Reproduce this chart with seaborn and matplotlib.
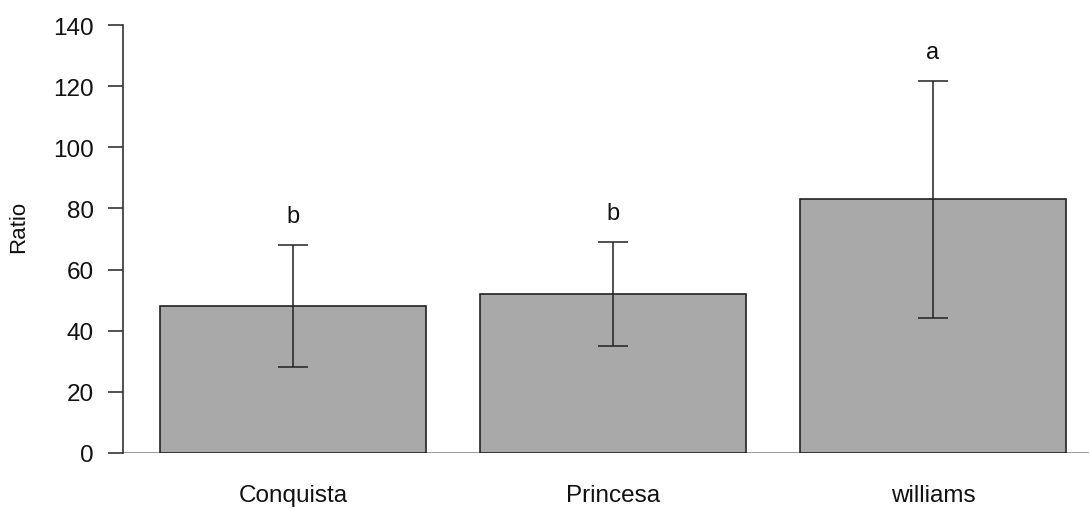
import numpy as np
import pandas as pd
import matplotlib
matplotlib.use("Agg")
import matplotlib.pyplot as plt
import seaborn as sns

# === Data ===
varieties = ["Conquista", "Princesa", "williams"]
ratio_mean = [48.0, 52.0, 83.0]
ratio_sd = [20.0, 17.0, 38.7]
letters = ["b", "b", "a"]

df = pd.DataFrame({"Variety": varieties, "Ratio": ratio_mean})

sns.set_style("white")
plt.rcParams["font.family"] = ["Liberation Sans", "DejaVu Sans"]
plt.rcParams.update({
    "text.color": "#111111",
    "axes.labelcolor": "#111111",
    "xtick.color": "#111111",
    "ytick.color": "#111111",
})

fig = plt.figure(figsize=(10.89, 5.10), dpi=100)
ax = fig.add_axes([123 / 1089, 56 / 510, 1 - 123 / 1089, 428 / 510])

sns.barplot(data=df, x="Variety", y="Ratio", order=varieties,
            color="#A9A9A9", edgecolor="#222222", linewidth=1.2,
            width=0.833, errorbar=None, saturation=1, ax=ax)

# error bars (mean +/- sd)
xpos = np.arange(len(varieties))
ax.errorbar(xpos, ratio_mean, yerr=ratio_sd, fmt="none", ecolor="#222222",
            elinewidth=1.1, capsize=10.5, capthick=1.1, zorder=5)

# significance letters
for i, (m, s, lab) in enumerate(zip(ratio_mean, ratio_sd, letters)):
    ax.text(i, m + s + 9.5, lab, ha="center", va="center", fontsize=17,
            color="#111111", clip_on=False)

# baseline like R's barplot
ax.axhline(0, color="#888888", lw=1.2, zorder=0)

ax.set_ylim(0, 140)
ax.set_xlim(-0.531, 2.4875)
ax.set_yticks(np.arange(0, 141, 20))

for side in ["top", "right", "bottom"]:
    ax.spines[side].set_visible(False)
ax.spines["left"].set_bounds(0, 140)
ax.spines["left"].set_color("#333333")
ax.spines["left"].set_linewidth(1.2)

ax.tick_params(axis="y", length=10.8, width=1.2, color="#333333",
               labelcolor="#111111", pad=10, labelsize=17.5, left=True)
ax.tick_params(axis="x", length=0, pad=22, labelsize=17.5,
               labelcolor="#111111")

ax.set_xlabel("")
ax.set_ylabel("Ratio", fontsize=16)
ax.yaxis.set_label_coords(-0.097, 0.53)

fig.savefig("out.png", dpi=100)
